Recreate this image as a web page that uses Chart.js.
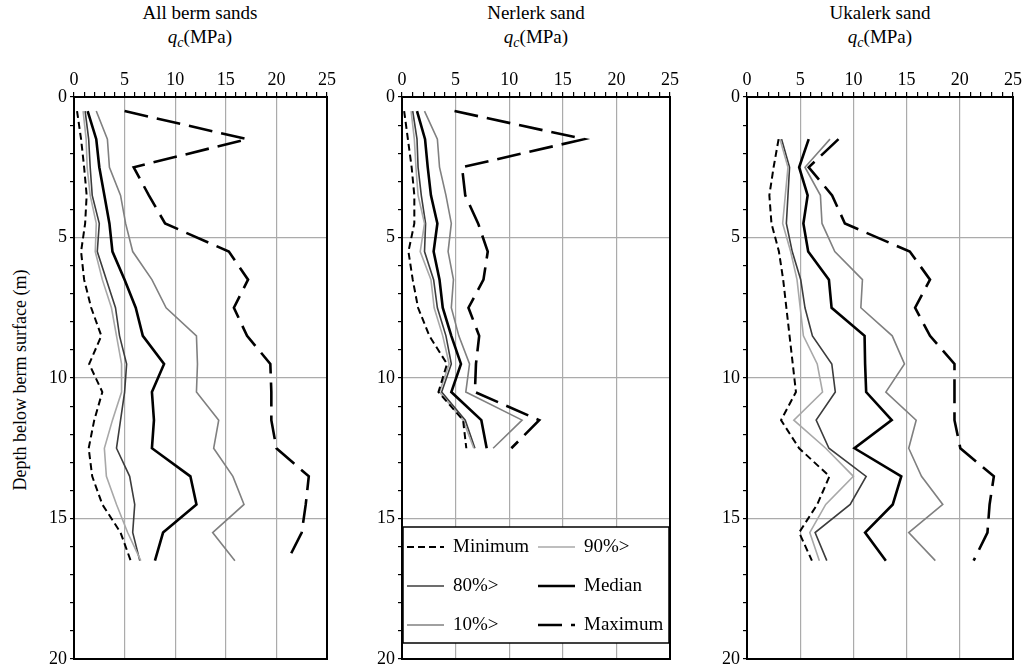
<!DOCTYPE html>
<html>
<head>
<meta charset="utf-8">
<script src="https://cdn.jsdelivr.net/npm/chart.js@4/dist/chart.umd.min.js"></script>
<style>
  html, body { margin: 0; background: #fff; overflow: hidden; }
  #page { position: relative; width: 1029px; height: 667px; overflow: hidden;
    font-family: "Liberation Serif", "DejaVu Serif", serif; color: #000; }
  canvas { position: absolute; top: 50px; }
  .title, .unit { position: absolute; width: 300px; text-align: center; font-size: 19px; line-height: 22px; }
  .title { top: 2px; }
  .unit { top: 26px; }
  .unit sub { font-size: 14px; vertical-align: -4px; line-height: 0; }
  #ytitle { position: absolute; left: 20px; top: 380px; font-size: 18px; white-space: nowrap;
    transform: translate(-50%, -50%) rotate(-90deg); }
</style>
</head>
<body>
<div id="page">
  <div class="title" style="left:50px">All berm sands</div>
  <div class="unit" style="left:50px"><i>q</i><sub><i>c</i></sub>(MPa)</div>
  <div class="title" style="left:386px">Nerlerk sand</div>
  <div class="unit" style="left:386px"><i>q</i><sub><i>c</i></sub>(MPa)</div>
  <div class="title" style="left:730px">Ukalerk sand</div>
  <div class="unit" style="left:730px"><i>q</i><sub><i>c</i></sub>(MPa)</div>
  <div id="ytitle">Depth below berm surface (m)</div>
  <canvas id="allChart" width="311" height="624" style="left:30px"></canvas>
  <canvas id="nerChart" width="326" height="624" style="left:358px"></canvas>
  <canvas id="ukaChart" width="324" height="624" style="left:703px"></canvas>
</div>
<script>
// depth of each reading (m)
const allDepths = [0.5, 1.5, 2.5, 3.5, 4.5, 5.5, 6.5, 7.5, 8.5, 9.5, 10.5, 11.5, 12.5, 13.5, 14.5, 15.5, 16.5];
const nerDepths = [0.5, 1.5, 2.5, 3.5, 4.5, 5.5, 6.5, 7.5, 8.5, 9.5, 10.5, 11.5, 12.5];
const ukaDepths = [1.5, 2.5, 3.5, 4.5, 5.5, 6.5, 7.5, 8.5, 9.5, 10.5, 11.5, 12.5, 13.5, 14.5, 15.5, 16.5];

// qc (MPa), all berm sands
const allMin = [0.3, 0.7, 1.0, 1.25, 1.1, 0.7, 1.0, 1.7, 2.7, 1.5, 2.8, 2.0, 1.45, 1.8, 2.8, 4.6, 5.6];
const allP90 = [0.9, 1.2, 1.3, 1.6, 2.2, 2.1, 2.8, 3.7, 4.2, 4.7, 4.7, 3.8, 3.0, 3.2, 4.2, 5.3, 6.6];
const allP80 = [1.1, 1.45, 1.6, 1.8, 2.5, 2.3, 3.2, 4.1, 4.5, 5.2, 5.0, 4.6, 4.2, 5.5, 6.0, 5.8, 6.5];
const allMedian = [1.35, 2.2, 2.5, 3.0, 3.5, 3.8, 5.0, 6.1, 6.8, 8.9, 7.7, 7.9, 7.7, 11.5, 12.1, 8.8, 8.0];
const allP10 = [2.2, 3.3, 3.5, 4.6, 5.1, 5.8, 7.7, 9.1, 12.1, 12.2, 12.1, 14.3, 13.8, 15.7, 16.8, 13.7, 15.9];
const allMax = [5.0, 17.1, 5.9, 7.4, 9.0, 15.3, 17.2, 15.8, 17.1, 19.4, 19.5, 19.5, 20.0, 23.2, 22.9, 22.5, 21.1];

// qc (MPa), Nerlerk sand
const nerMin = [0.2, 0.55, 0.9, 1.15, 1.15, 0.6, 1.0, 1.5, 2.55, 4.2, 3.4, 5.7, 6.0];
const nerP90 = [0.85, 1.15, 1.3, 1.5, 2.1, 1.7, 2.7, 3.0, 3.8, 4.4, 3.5, 5.7, 6.7];
const nerP80 = [1.0, 1.4, 1.5, 1.8, 2.2, 2.1, 2.95, 3.3, 4.1, 4.6, 3.7, 5.9, 6.8];
const nerMedian = [1.4, 2.15, 2.4, 2.7, 3.3, 2.95, 3.5, 3.8, 4.6, 5.5, 4.6, 7.4, 7.9];
const nerP10 = [2.1, 3.3, 3.5, 4.1, 4.6, 4.3, 4.8, 4.6, 5.3, 6.3, 5.95, 11.2, 8.5];
const nerMax = [4.9, 17.0, 5.6, 5.9, 7.1, 8.0, 7.6, 6.2, 7.2, 6.9, 6.8, 12.8, 10.2];

// qc (MPa), Ukalerk sand
const ukaMin = [2.97, 2.5, 2.1, 2.3, 3.0, 3.4, 3.7, 4.0, 4.3, 4.6, 3.2, 4.9, 7.75, 6.6, 4.9, 6.1];
const ukaP90 = [3.1, 3.85, 3.6, 3.35, 4.1, 4.7, 5.0, 5.3, 6.6, 7.1, 4.4, 7.4, 10.0, 7.4, 5.9, 6.8];
const ukaP80 = [3.25, 4.0, 3.85, 3.7, 4.25, 5.05, 5.45, 6.15, 7.97, 8.3, 6.5, 7.7, 11.2, 9.7, 6.4, 7.5];
const ukaMedian = [5.8, 4.9, 5.7, 5.3, 5.75, 7.7, 7.95, 11.05, 11.1, 11.2, 13.6, 10.1, 14.5, 13.7, 11.1, 13.05];
const ukaP10 = [7.8, 5.45, 6.9, 7.05, 8.25, 10.85, 10.7, 13.65, 14.8, 13.05, 15.9, 15.2, 16.4, 18.4, 15.2, 17.7];
const ukaMax = [8.6, 5.8, 8.0, 9.2, 15.3, 17.2, 15.8, 17.2, 19.5, 19.5, 19.5, 20.05, 23.2, 22.8, 22.6, 21.3];

const seriesLabels = ['Minimum', '90%>', '80%>', 'Median', '10%>', 'Maximum'];
const xTicks = [0, 5, 10, 15, 20, 25];
const yTicks = [0, 5, 10, 15, 20];

const lineStyles = [
  { color: '#000', width: 2, dash: [7, 4] },
  { color: '#a8a8a8', width: 1.6, dash: [] },
  { color: '#3c3c3c', width: 1.6, dash: [] },
  { color: '#000', width: 2.6, dash: [] },
  { color: '#808080', width: 1.6, dash: [] },
  { color: '#000', width: 2.6, dash: [24, 9] },
];

const FAMILY = '"Liberation Serif", "DejaVu Serif", serif';
const FONT = { family: FAMILY, size: 18 };

const toPoints = (depths, values) => values.map((v, i) => ({ x: v, y: depths[i] }));

// closes the plot box on the right and bottom
const framePlugin = {
  id: 'frame',
  afterDatasetsDraw(chart) {
    const { ctx, chartArea: a } = chart;
    ctx.save();
    ctx.strokeStyle = '#000';
    ctx.lineWidth = 2;
    ctx.strokeRect(a.left, a.top, a.right - a.left, a.bottom - a.top);
    ctx.restore();
  },
};

// boxed two-column key in the lower part of the plot
const keyPlugin = {
  id: 'key',
  afterDraw(chart, args, opts) {
    if (!opts.show) return;
    const { ctx, chartArea: a } = chart;
    const x0 = a.left + 1, x1 = a.right - 1;
    const y1 = a.bottom - 16, y0 = y1 - 116;
    ctx.save();
    ctx.fillStyle = '#fff';
    ctx.fillRect(x0, y0, x1 - x0, y1 - y0);
    ctx.strokeStyle = '#000';
    ctx.lineWidth = 1.5;
    ctx.strokeRect(x0, y0, x1 - x0, y1 - y0);
    ctx.font = '19px ' + FAMILY;
    ctx.textBaseline = 'middle';
    ctx.fillStyle = '#000';
    chart.data.datasets.forEach((ds, i) => {
      const col = i % 2, row = Math.floor(i / 2);
      const sx = x0 + 4 + col * 131;
      const sy = y0 + 20 + row * 39;
      ctx.beginPath();
      ctx.strokeStyle = ds.borderColor;
      ctx.lineWidth = ds.borderWidth;
      ctx.setLineDash(ds.borderDash);
      ctx.moveTo(sx, sy);
      ctx.lineTo(sx + 37, sy);
      ctx.stroke();
      ctx.setLineDash([]);
      ctx.fillText(ds.label, sx + 46, sy);
    });
    ctx.restore();
  },
};

const gridColor = (ctx, max) => {
  const v = ctx.tick ? ctx.tick.value : 0;
  return v % 5 === 0 && v !== 0 && v !== max ? '#ababab' : 'rgba(0,0,0,0)';
};

const makePanel = (canvasId, depths, seriesValues, showKey) => {
  const datasets = seriesValues.map((values, i) => ({
    label: seriesLabels[i],
    data: toPoints(depths, values),
    showLine: true,
    borderColor: lineStyles[i].color,
    borderWidth: lineStyles[i].width,
    borderDash: lineStyles[i].dash,
    pointRadius: 0,
    tension: 0,
    fill: false,
  }));
  new Chart(document.getElementById(canvasId), {
    type: 'scatter',
    data: { datasets },
    plugins: [framePlugin, keyPlugin],
    options: {
      responsive: false,
      animation: false,
      layout: { padding: { top: 0, right: 14, bottom: 15, left: 0 } },
      plugins: {
        legend: { display: false },
        tooltip: { enabled: false },
        key: { show: showKey },
      },
      scales: {
        x: {
          type: 'linear',
          position: 'top',
          min: 0,
          max: 25,
          afterFit: s => { s.height = 47; },
          afterBuildTicks: s => { s.ticks = Array.from({ length: 26 }, (_, i) => ({ value: i })); },
          ticks: {
            autoSkip: false,
            maxRotation: 0,
            padding: 1,
            color: '#000',
            font: FONT,
            callback: v => (xTicks.includes(v) ? String(v) : ''),
          },
          grid: {
            color: ctx => gridColor(ctx, 25),
            tickColor: '#000',
            tickLength: 5,
            lineWidth: 1.2,
          },
          border: { display: true, color: '#000', width: 2 },
        },
        y: {
          type: 'linear',
          reverse: true,
          min: 0,
          max: 20,
          afterFit: s => { s.width = 44; },
          afterBuildTicks: s => { s.ticks = Array.from({ length: 21 }, (_, i) => ({ value: i })); },
          ticks: {
            autoSkip: false,
            padding: 3,
            color: '#000',
            font: FONT,
            callback: v => (yTicks.includes(v) ? String(v) : ''),
          },
          grid: {
            color: ctx => gridColor(ctx, 20),
            tickColor: '#000',
            tickLength: 4,
            lineWidth: 1.2,
          },
          border: { display: true, color: '#000', width: 2 },
        },
      },
    },
  });
};

makePanel('allChart', allDepths, [allMin, allP90, allP80, allMedian, allP10, allMax], false);
makePanel('nerChart', nerDepths, [nerMin, nerP90, nerP80, nerMedian, nerP10, nerMax], true);
makePanel('ukaChart', ukaDepths, [ukaMin, ukaP90, ukaP80, ukaMedian, ukaP10, ukaMax], false);
</script>
</body>
</html>
